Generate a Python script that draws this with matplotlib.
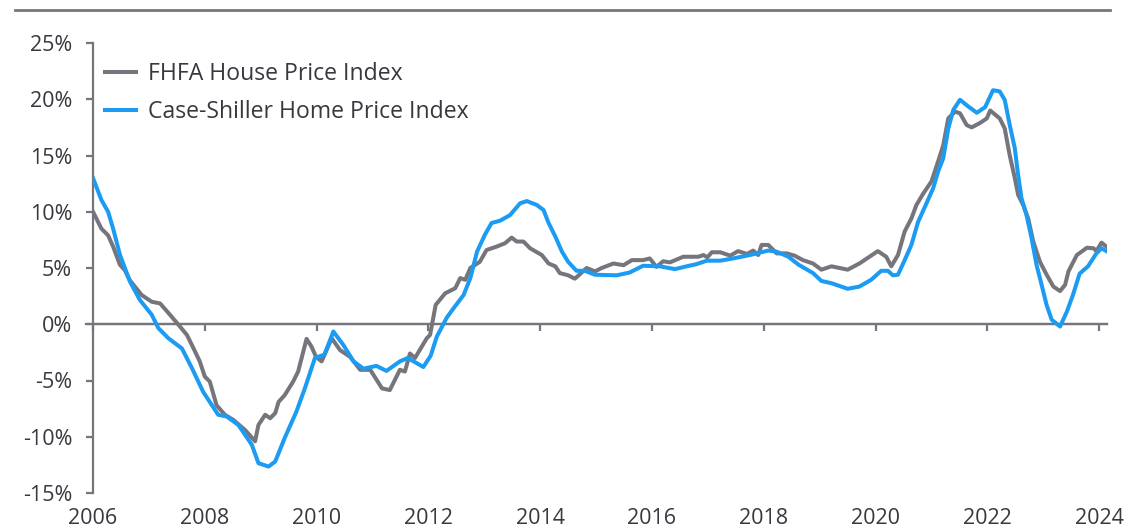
import matplotlib
matplotlib.use("Agg")
import matplotlib.pyplot as plt

# ---- data (decimal years, % y/y) ----
fhfa_t = [2006.0, 2006.15, 2006.27, 2006.36, 2006.48, 2006.57, 2006.66, 2006.87, 2007.05, 2007.2,
          2007.35, 2007.53, 2007.68, 2007.77, 2007.91, 2008.0, 2008.09, 2008.21, 2008.36, 2008.51,
          2008.72, 2008.9, 2008.96, 2009.08, 2009.17, 2009.26, 2009.32, 2009.43, 2009.58, 2009.67,
          2009.82, 2009.91, 2009.99, 2010.09, 2010.27, 2010.42, 2010.6, 2010.78, 2010.96, 2011.17,
          2011.31, 2011.49, 2011.58, 2011.67, 2011.76, 2011.97, 2012.03, 2012.13, 2012.3, 2012.48,
          2012.57, 2012.66, 2012.75, 2012.92, 2013.04, 2013.22, 2013.37, 2013.49, 2013.58, 2013.7,
          2013.82, 2014.03, 2014.15, 2014.27, 2014.35, 2014.5, 2014.62, 2014.71, 2014.83, 2014.98,
          2015.1, 2015.31, 2015.49, 2015.64, 2015.84, 2015.96, 2016.08, 2016.2, 2016.32, 2016.56,
          2016.83, 2016.92, 2016.99, 2017.07, 2017.22, 2017.4, 2017.54, 2017.7, 2017.81, 2017.9,
          2017.96, 2018.08, 2018.23, 2018.41, 2018.55, 2018.7, 2018.88, 2019.03, 2019.21, 2019.5,
          2019.71, 2019.89, 2020.04, 2020.19, 2020.28, 2020.4, 2020.52, 2020.64, 2020.73, 2020.85,
          2021.0, 2021.12, 2021.21, 2021.3, 2021.42, 2021.51, 2021.63, 2021.72, 2021.87, 2021.99,
          2022.05, 2022.22, 2022.31, 2022.4, 2022.49, 2022.55, 2022.64, 2022.73, 2022.82, 2022.94,
          2023.06, 2023.18, 2023.3, 2023.39, 2023.45, 2023.6, 2023.78, 2023.9, 2023.95, 2024.04,
          2024.13]
fhfa_v = [10.0, 8.5, 7.9, 6.9, 5.3, 4.8, 3.9, 2.6, 2.0, 1.85,
          1.0, -0.05, -0.95, -1.85, -3.3, -4.65, -5.1, -7.2, -8.05, -8.5,
          -9.4, -10.4, -8.95, -8.05, -8.35, -7.9, -6.9, -6.3, -5.1, -4.2,
          -1.3, -2.0, -2.9, -3.3, -1.25, -2.3, -2.9, -4.05, -4.05, -5.7,
          -5.85, -4.05, -4.2, -2.6, -3.0, -1.25, -0.95, 1.72, 2.75, 3.2,
          4.1, 3.95, 5.0, 5.55, 6.6, 6.9, 7.2, 7.7, 7.35, 7.35,
          6.75, 6.15, 5.4, 5.15, 4.55, 4.35, 4.05, 4.45, 5.0, 4.7,
          5.0, 5.4, 5.25, 5.7, 5.7, 5.85, 5.1, 5.6, 5.5, 6.0,
          6.0, 6.15, 5.95, 6.4, 6.4, 6.1, 6.5, 6.25, 6.55, 6.15,
          7.05, 7.05, 6.3, 6.3, 6.1, 5.7, 5.4, 4.85, 5.15, 4.85,
          5.4, 6.0, 6.5, 6.0, 5.15, 6.15, 8.25, 9.4, 10.6, 11.6,
          12.7, 14.5, 15.9, 18.3, 18.9, 18.75, 17.7, 17.5, 17.9, 18.3,
          19.0, 18.3, 17.4, 15.0, 13.0, 11.5, 10.6, 9.4, 7.35, 5.55,
          4.4, 3.35, 2.95, 3.5, 4.7, 6.15, 6.8, 6.75, 6.5, 7.25,
          6.9]

cs_t = [2006.0, 2006.15, 2006.27, 2006.36, 2006.48, 2006.66, 2006.84, 2007.05, 2007.17, 2007.35,
        2007.59, 2007.77, 2007.97, 2008.24, 2008.39, 2008.6, 2008.84, 2008.96, 2009.14, 2009.26,
        2009.43, 2009.64, 2009.79, 2009.97, 2010.14, 2010.3, 2010.48, 2010.66, 2010.84, 2011.07,
        2011.25, 2011.49, 2011.63, 2011.91, 2012.04, 2012.15, 2012.33, 2012.45, 2012.63, 2012.75,
        2012.87, 2013.01, 2013.13, 2013.28, 2013.46, 2013.64, 2013.76, 2013.94, 2014.06, 2014.15,
        2014.27, 2014.39, 2014.5, 2014.65, 2014.8, 2014.98, 2015.37, 2015.6, 2015.84, 2016.14,
        2016.41, 2016.62, 2016.8, 2016.98, 2017.22, 2017.45, 2017.75, 2018.08, 2018.23, 2018.44,
        2018.62, 2018.88, 2019.03, 2019.21, 2019.5, 2019.71, 2019.92, 2020.1, 2020.22, 2020.31,
        2020.4, 2020.52, 2020.64, 2020.76, 2020.91, 2021.03, 2021.12, 2021.21, 2021.3, 2021.39,
        2021.51, 2021.66, 2021.81, 2021.96, 2022.1, 2022.22, 2022.31, 2022.4, 2022.49, 2022.55,
        2022.61, 2022.7, 2022.79, 2022.88, 2022.97, 2023.06, 2023.15, 2023.3, 2023.42, 2023.53,
        2023.65, 2023.8, 2023.95, 2024.04, 2024.13]
cs_v = [13.0, 11.05, 10.0, 8.5, 6.2, 3.8, 2.15, 0.85, -0.35, -1.25,
        -2.15, -3.9, -6.0, -8.05, -8.2, -8.95, -10.7, -12.35, -12.65, -12.2,
        -10.1, -7.75, -5.7, -3.0, -2.7, -0.65, -1.85, -3.3, -3.95, -3.7,
        -4.15, -3.3, -3.0, -3.8, -2.8, -1.1, 0.6, 1.42, 2.6, 4.1,
        6.45, 7.95, 9.0, 9.2, 9.7, 10.75, 10.95, 10.6, 10.15, 9.0,
        7.8, 6.45, 5.55, 4.75, 4.75, 4.4, 4.35, 4.6, 5.2, 5.15,
        4.9, 5.15, 5.35, 5.65, 5.65, 5.85, 6.15, 6.55, 6.45, 6.0,
        5.3, 4.55, 3.85, 3.65, 3.15, 3.35, 3.95, 4.75, 4.75, 4.35,
        4.4, 5.7, 7.05, 9.1, 10.75, 12.1, 13.6, 14.75, 17.4, 19.05,
        19.95, 19.35, 18.8, 19.3, 20.8, 20.7, 19.95, 17.7, 15.65, 13.25,
        11.2, 9.7, 7.65, 5.25, 3.5, 1.7, 0.4, -0.2, 1.1, 2.6,
        4.5, 5.15, 6.3, 6.75, 6.5]

series_labels = ["FHFA House Price Index", "Case-Shiller Home Price Index"]
year_ticks = list(range(2006, 2025, 2))
y_ticks = [-15, -10, -5, 0, 5, 10, 15, 20, 25]

# ---- style ----
GREY = "#76757c"
BLUE = "#1b9cf2"
AXC = "#76757b"
TXT = "#38383f"
FONT = ["Open Sans", "DejaVu Sans"]
plt.rcParams["font.family"] = FONT

W, H = 1130, 530
fig = plt.figure(figsize=(W / 100, H / 100), dpi=100)
left, right, top, bottom = 93, 1107, 43, 493
ax = fig.add_axes([left / W, 1 - bottom / H, (right - left) / W, (bottom - top) / H])

ax.plot(fhfa_t, fhfa_v, color=GREY, lw=2.9, label=series_labels[0], solid_joinstyle="round", zorder=3)
ax.plot(cs_t, cs_v, color=BLUE, lw=2.9, label=series_labels[1], solid_joinstyle="round", zorder=4)

x_end = 2006 + (right - left) / 55.9
ax.set_xlim(2006, x_end)
ax.set_ylim(-15, 25)

for s in ["top", "right", "bottom"]:
    ax.spines[s].set_visible(False)
ax.spines["left"].set_color(AXC)
ax.spines["left"].set_linewidth(1.6)

ax.set_yticks(y_ticks)
ax.set_yticklabels([f"{v}%" for v in y_ticks])
ax.tick_params(axis="y", direction="out", length=5, width=1.6, color=AXC,
               labelsize=15.5, labelcolor=TXT, pad=10)

ax.set_xticks(year_ticks)
ax.set_xticklabels([str(y) for y in year_ticks])
ax.tick_params(axis="x", length=0, labelsize=15.5, labelcolor=TXT, pad=11)

# zero line with ticks
zero_frac = (0 - (-15)) / (25 - (-15))
sec = ax.secondary_xaxis(zero_frac)
sec.set_xticks(year_ticks)
sec.tick_params(axis="x", direction="out", length=5, width=1.6, color=AXC, labelbottom=False,
                labeltop=False)
sec.spines["bottom"].set_color(AXC)
sec.spines["bottom"].set_linewidth(1.6)
for s in ["top", "left", "right"]:
    if s in sec.spines:
        sec.spines[s].set_visible(False)
# zero line reaches slightly left of the y axis, as in the reference
ax.axhline(0, xmin=-7 / (right - left), xmax=1, color=AXC, lw=1.6, clip_on=False, zorder=2)

leg = ax.legend(loc="upper left", bbox_to_anchor=((105 - left) / (right - left), 1 - (62 - top) / (bottom - top)),
                frameon=False, fontsize=16.6, handlelength=1.35, handletextpad=0.5,
                labelspacing=0.6, borderpad=0, borderaxespad=0)
for t in leg.get_texts():
    t.set_color(TXT)

# top rule
fig.add_artist(plt.Line2D([15 / W, 1110 / W], [1 - 10 / H, 1 - 10 / H], color=AXC, lw=2.0))

fig.savefig("out.png", dpi=100)
